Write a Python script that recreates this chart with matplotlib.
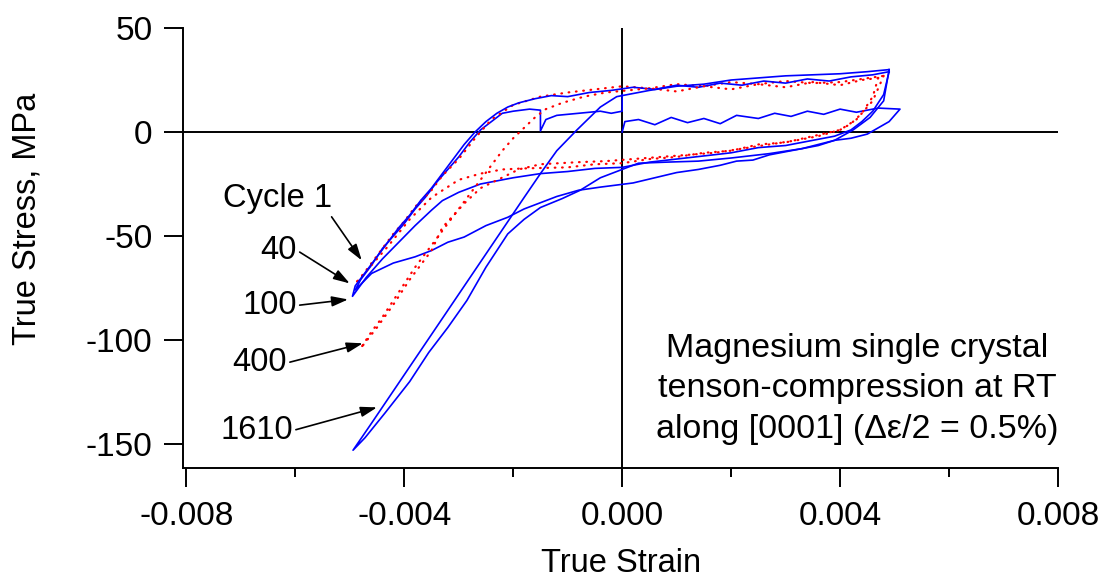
import matplotlib
matplotlib.use('Agg')
import matplotlib.pyplot as plt

plt.rcParams['font.family'] = ['Liberation Sans', 'DejaVu Sans']

# cycle 1 (blue): first tension, then reverse into compression, reload
c1_strain = [0, 0.00005, 0.0003, 0.0006, 0.0009, 0.0012, 0.0015, 0.0018, 0.0021, 0.0025, 0.0028,
             0.0031, 0.0034, 0.0037, 0.0040, 0.0043, 0.0047, 0.0051,
             0.0049, 0.0047, 0.0045, 0.0042, 0.0039, 0.0036, 0.0033, 0.0030, 0.0027, 0.0024, 0.0021,
             0.0018, 0.0014, 0.0010, 0.0006, 0.0002, -0.0004, -0.0008, -0.0012, -0.0015, -0.0018,
             -0.0021, -0.0025, -0.0029, -0.0032, -0.0035, -0.0038, -0.0042, -0.0046, -0.0049,
             -0.0048, -0.0046, -0.0044, -0.0042, -0.0040, -0.0038, -0.0036, -0.0034, -0.0032, -0.0030,
             -0.0028, -0.0026, -0.0024, -0.0022, -0.0020, -0.0017, -0.0015, -0.0015, -0.0014, -0.0012,
             -0.0008, -0.0004, -0.0002, 0, 0]
c1_stress = [0, 5, 6, 3.5, 7, 4.5, 6.5, 4, 8, 6.5, 9,
             7.5, 10, 8.5, 11, 9.5, 11.5, 11,
             5, 2, -1, -3, -4, -6.5, -8, -9.5, -11, -13.5, -14,
             -16, -18, -19.5, -22, -24.5, -26.5, -28, -31, -34, -37,
             -41, -45, -50.5, -53, -57, -60, -63, -68, -76,
             -71, -64, -56, -50, -44, -37, -31, -24, -18, -12,
             -5, 1, 5, 9, 10, 11, 10.5, 0.5, 6, 8,
             9, 10, 9, 10, 18]

# cycle 40 (red)
c40_strain = [0.0048, 0.0046, 0.0043, 0.0040, 0.0035, 0.0030, 0.0025, 0.0020, 0.0015, 0.0010, 0.0005,
              0, -0.0005, -0.0010, -0.0018, -0.0022, -0.0026, -0.0030, -0.0035, -0.0039, -0.0043,
              -0.0046, -0.0049,
              -0.0048, -0.0046, -0.0044, -0.0042, -0.0040, -0.0038, -0.0035, -0.0033, -0.0030,
              -0.0027, -0.0024, -0.0020, -0.0015, -0.0010, -0.0005, 0, 0.0005, 0.0010, 0.0015,
              0.0020, 0.0025, 0.0030, 0.0035, 0.0040, 0.0044, 0.0048]
c40_stress = [27, 15, 6, 1, -2, -5, -6, -9, -10, -12, -13,
              -15, -15.5, -17, -17.5, -18, -20, -23, -31.5, -42, -55,
              -64, -73,
              -70, -63, -56, -49, -43, -36, -28, -21, -13,
              -3, 6, 13, 17, 19, 20.5, 22, 21, 23, 22,
              24, 23, 24.5, 23.5, 24, 25.5, 27]

# cycle 100 (blue)
c100_strain = [0.0049, 0.0048, 0.0046, 0.0044, 0.0042, 0.0039, 0.0035, 0.0030, 0.0025, 0.0020, 0.0015,
               0.0010, 0.0005, 0, -0.0005, -0.0010, -0.0015, -0.0020, -0.0026, -0.0030, -0.0033,
               -0.0035, -0.0038, -0.0041, -0.0044, -0.0047, -0.00495,
               -0.0049, -0.0047, -0.0045, -0.0043, -0.0041, -0.0039, -0.0037, -0.0035, -0.0033, -0.0031,
               -0.0029, -0.0027, -0.0025, -0.0023, -0.0021, -0.0019, -0.0016, -0.0013, -0.0010, -0.0006,
               -0.0002, 0.0002, 0.0006, 0.0010, 0.0014, 0.0018, 0.0022, 0.0026, 0.0030, 0.0034, 0.0038,
               0.0042, 0.0046, 0.0049]
c100_stress = [29, 18, 10, 5, 1, -2, -4, -6.5, -7.5, -10, -11.5,
               -13, -14.5, -17, -17.5, -19, -20, -22, -25, -29, -33,
               -37.6, -45, -53, -61, -70, -79,
               -74, -67, -60, -53, -46, -40, -33, -27, -20, -13,
               -6, 0, 5, 9, 12, 14, 16, 17.5, 17, 19,
               20, 21.5, 20.5, 22.5, 21.5, 23.5, 22.5, 24.5, 23.5, 25.5, 24.5,
               26.5, 27.5, 29]

# cycle 400 (red)
c400_strain = [0.0047, 0.0046, 0.0044, 0.0042, 0.0040, 0.0036, 0.0032, 0.0027, 0.0022, 0.0017, 0.0012,
               0.0007, 0.0002, -0.0003, -0.0008, -0.0015, -0.0019, -0.0022, -0.0026, -0.0029, -0.0033,
               -0.0035, -0.0039, -0.0042, -0.0045, -0.0048,
               -0.0046, -0.0044, -0.0042, -0.0040, -0.0038, -0.0036, -0.0034, -0.0032, -0.0030, -0.0028,
               -0.0026, -0.0024, -0.0022, -0.0020, -0.0018, -0.0016, -0.0014, -0.0011, -0.0007, -0.0003,
               0.0005, 0.0010, 0.0015, 0.0020, 0.0025, 0.0030, 0.0035, 0.0040, 0.0044, 0.0047]
c400_stress = [26, 17, 9, 4, 1, -2, -4, -6, -8, -10, -11,
               -12, -13, -14, -14.5, -15.5, -18, -21.9, -27, -34.4, -45.9,
               -57, -71, -83, -94, -104,
               -96, -89, -81, -73, -65, -58, -51, -44, -37, -30,
               -23, -16, -9, -3, 2, 7, 11, 14, 17, 19,
               21, 19.5, 22, 20.5, 23, 21.5, 24, 22.5, 25, 26]

# cycle 1610 (blue)
c1610_strain = [0.0049, 0.0048, 0.00455, 0.00424, 0.0039, 0.0033, 0.0027, 0.0020, 0.0014, 0.0008,
                0.0003, 0, -0.0004, -0.00077, -0.0011, -0.0015, -0.0018, -0.0021, -0.0025, -0.00285,
                -0.0032, -0.00355, -0.0039, -0.00435, -0.00472, -0.00494,
                -0.0046, -0.0042, -0.0038, -0.0034, -0.0030, -0.0026, -0.0022, -0.0018,
                -0.0015, -0.0012, -0.00083, -0.0004, -0.0001, 0.0005, 0.0010, 0.0015, 0.0020, 0.0025,
                0.0030, 0.0035, 0.0040, 0.0045, 0.0049]
c1610_stress = [30, 15, 7, 1, -4, -8, -10.4, -12.5, -14, -14.5,
                -15, -18, -22, -28, -32, -36.3, -42, -49, -65, -81,
                -94, -106, -120, -135, -147, -153,
                -140, -124.5, -109, -93.5, -78, -62.5, -47, -31.5,
                -20, -9, 1, 12, 17, 20, 22, 23, 25, 26,
                27, 27.5, 28, 29, 30]

labels = ['Cycle 1', '40', '100', '400', '1610']

fig = plt.figure(figsize=(11.06, 5.81), dpi=100)
ax = fig.add_axes([0.1655, 0.195, 0.7911, 0.7568])

ax.plot(c1_strain, c1_stress, color='blue', lw=1.2)
ax.plot(c40_strain, c40_stress, color='red', lw=1.6, ls=(0, (0.3, 3)), dash_capstyle='round')
ax.plot(c100_strain, c100_stress, color='blue', lw=1.2)
ax.plot(c400_strain, c400_stress, color='red', lw=1.6, ls=(0, (0.3, 3)), dash_capstyle='round')
ax.plot(c1610_strain, c1610_stress, color='blue', lw=1.2)

ax.axhline(0, color='black', lw=1.4, zorder=0)
ax.axvline(0, color='black', lw=1.4, zorder=0)

ax.set_xlim(-0.00806, 0.008)
ax.set_ylim(-161.4, 50)
ax.set_xticks([-0.008, -0.004, 0, 0.004, 0.008])
ax.set_xticklabels(['-0.008', '-0.004', '0.000', '0.004', '0.008'])
ax.set_xticks([-0.006, -0.002, 0.002, 0.006], minor=True)
ax.set_yticks([50, 0, -50, -100, -150])
ax.set_yticklabels(['50', '0', '-50', '-100', '-150'])
ax.tick_params(which='major', direction='out', length=14, width=1.4, labelsize=24, pad=8)
ax.tick_params(which='minor', direction='out', length=6.5, width=1.4)
ax.tick_params(axis='x', which='major', pad=10)
for s in ['top', 'right']:
    ax.spines[s].set_visible(False)
for s in ['left', 'bottom']:
    ax.spines[s].set_linewidth(1.4)

ax.set_xlabel('True Strain', fontsize=23.5)
ax.xaxis.label.set_va('center')
ax.xaxis.set_label_coords(0.5003, -0.219)
ax.set_ylabel('True Stress, MPa', fontsize=23.5)
ax.yaxis.label.set_va('center')
ax.yaxis.set_label_coords(-0.178, 0.566)

# arrows pointing at the compressive tips
arr = dict(arrowstyle='-|>,head_length=0.7,head_width=0.22', color='black', lw=1.2,
           mutation_scale=14, shrinkA=0, shrinkB=0)
ax.annotate(labels[0], xy=(-0.00478, -61.7), xytext=(-0.00633, -32), fontsize=23.5,
            ha='center', va='center', arrowprops=dict(arr, relpos=(0.98, 0.0)))
ax.annotate(labels[1], xy=(-0.0050, -72.8), xytext=(-0.00597, -56.9), fontsize=23.5,
            ha='right', va='center', arrowprops=dict(arr, relpos=(1.0, 0.5)))
ax.annotate(labels[2], xy=(-0.00503, -80.5), xytext=(-0.00597, -83.4), fontsize=23.5,
            ha='right', va='center', arrowprops=dict(arr, relpos=(1.0, 0.5)))
ax.annotate(labels[3], xy=(-0.00476, -101.6), xytext=(-0.00615, -111), fontsize=23.5,
            ha='right', va='center', arrowprops=dict(arr, relpos=(1.0, 0.5)))
ax.annotate(labels[4], xy=(-0.0045, -132.4), xytext=(-0.00604, -143.5), fontsize=23.5,
            ha='right', va='center', arrowprops=dict(arr, relpos=(1.0, 0.5)))

ax.text(0.00432, -123.4,
        'Magnesium single crystal\ntenson-compression at RT\nalong [0001] (\u0394\u03b5/2 = 0.5%)',
        fontsize=24.5, ha='center', va='center', multialignment='center', linespacing=1.4)

plt.savefig('out.png', dpi=100, facecolor='white')
